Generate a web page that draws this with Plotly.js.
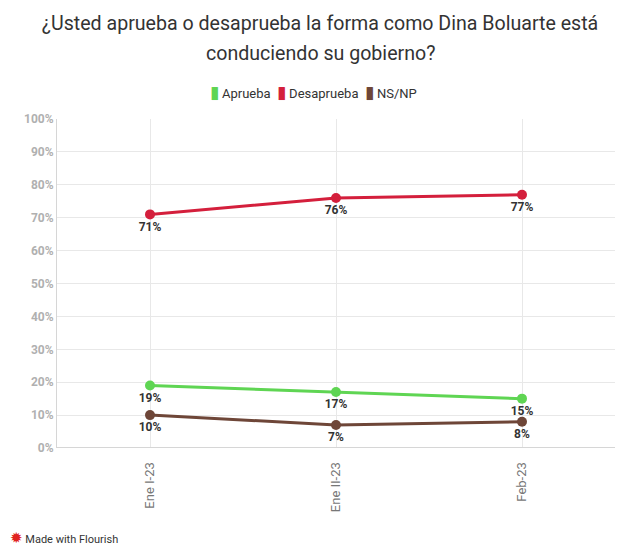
<!DOCTYPE html>
<html><head><meta charset="utf-8">
<script src="https://cdn.plot.ly/plotly-3.0.1.min.js"></script>
<style>html,body{margin:0;padding:0;background:#fff}#c{width:640px;height:550px}</style>
</head><body><div id="c"></div>
<script>
const categories = ["Ene I-23", "Ene II-23", "Feb-23"];
const aprueba = [19, 17, 15];
const desaprueba = [71, 76, 77];
const nsnp = [10, 7, 8];
const yTicks = [0,10,20,30,40,50,60,70,80,90,100];
const titleLines = ["¿Usted aprueba o desaprueba la forma como Dina Boluarte está", "conduciendo su gobierno?"];

const series = [
  {name: "Aprueba", y: aprueba, color: "#5fd553"},
  {name: "Desaprueba", y: desaprueba, color: "#d41f3c"},
  {name: "NS/NP", y: nsnp, color: "#6e4638"}
];

const traces = series.map(s => ({
  type: "scatter", mode: "lines+markers+text", x: categories, y: s.y, name: s.name,
  line: {color: s.color, width: 3}, marker: {color: s.color, size: 10},
  text: s.y.map(v => v + "%"), textposition: "bottom center",
  textfont: {family: "Roboto", size: 12, color: "#333", weight: "bold"},
  showlegend: false, hoverinfo: "skip", cliponaxis: false
}));

const H = 550, plotTop = 119, plotBottom = 448, plotL = 57, plotR = 615;
const py = yPix => (plotBottom - yPix) / (plotBottom - plotTop);
const px = xPix => (xPix - plotL) / (plotR - plotL);

const legendText = series.map(s => "<span style='color:" + s.color + ";font-family:DejaVu Sans;font-size:17px'>▮</span>\u2009" + s.name).join("  ");

const layout = {
  width: 640, height: 550,
  margin: {l: plotL, r: 640 - plotR, t: plotTop, b: H - plotBottom},
  paper_bgcolor: "#fff", plot_bgcolor: "#fff",
  font: {family: "Roboto", color: "#333"},
  title: {text: titleLines[0],
    x: 0.5, xref: "container", xanchor: "center", y: 1 - 23/550, yref: "container", yanchor: "middle",
    font: {family: "Roboto", size: 19.6, color: "#333"}},
  showlegend: false,
  xaxis: {type: "category", range: [-0.5, 2.5], showgrid: true, gridcolor: "#e8e8e8",
    showline: false, zeroline: false, tickangle: -90, ticks: "outside", ticklen: 8, tickcolor: "rgba(0,0,0,0)",
    tickfont: {family: "Roboto", size: 13, color: "#777"}, fixedrange: true},
  yaxis: {range: [0, 100], tickvals: yTicks, ticktext: yTicks.map(v => v + "%"),
    showgrid: true, gridcolor: "#e8e8e8", zeroline: false, showline: true, linecolor: "#d6d6d6", linewidth: 1,
    tickfont: {family: "Roboto", size: 12, color: "#b0b0b0", weight: "bold"}, ticks: "", fixedrange: true},
  shapes: [{type: "line", xref: "paper", yref: "y", x0: 0, x1: 1, y0: 0, y1: 0, line: {color: "#d6d6d6", width: 2}}],
  annotations: [
    {text: titleLines[1], xref: "paper", yref: "paper", x: px(320), y: py(53), xanchor: "center", yanchor: "middle",
     showarrow: false, font: {family: "Roboto", size: 19.6, color: "#333"}},
    {text: legendText, xref: "paper", yref: "paper", x: px(313), y: py(92), xanchor: "center", yanchor: "middle",
     showarrow: false, font: {family: "Roboto", size: 13, color: "#333"}},
    {text: "<span style='color:#e0231f;font-family:DejaVu Sans;font-size:15px'>✹</span> Made with Flourish", xref: "paper", yref: "paper",
     x: px(8), y: py(538), xanchor: "left", yanchor: "middle", showarrow: false,
     font: {family: "Roboto", size: 11, color: "#333"}}
  ]
};

Plotly.newPlot("c", traces, layout, {displayModeBar: false, staticPlot: true});
</script></body></html>
